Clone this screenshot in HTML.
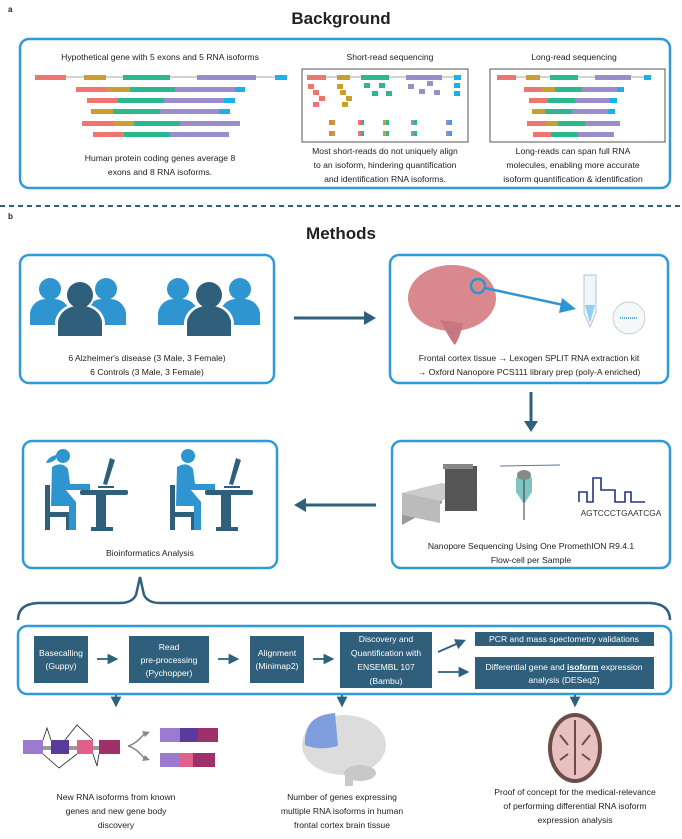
<!DOCTYPE html>
<html><head><meta charset="utf-8"><style>
html,body{margin:0;padding:0;background:#fff;}
svg{display:block;font-family:"Liberation Sans",sans-serif;}
text{fill:#222;font-size:8.6px;}
.t{text-anchor:middle;}
.w{fill:#fff;text-anchor:middle;font-size:8.6px;}
</style></head><body>
<svg width="682" height="839" viewBox="0 0 682 839" xmlns="http://www.w3.org/2000/svg">
<defs>
<marker id="ah" markerWidth="6" markerHeight="6" refX="3" refY="3" orient="auto" markerUnits="strokeWidth"><path d="M0,0 L6,3 L0,6 z" fill="#2f607e"/></marker>
</defs>
<text x="8" y="12" style="font-size:8px;font-weight:bold">a</text>
<text x="341" y="24" class="t" style="font-size:17px;font-weight:bold">Background</text>
<rect x="20" y="39" width="650" height="149" rx="9" fill="none" stroke="#2e9ad8" stroke-width="2.5"/>
<text x="160" y="60" class="t">Hypothetical gene with 5 exons and 5 RNA isoforms</text>
<text x="390" y="60" class="t">Short-read sequencing</text>
<text x="574" y="60" class="t">Long-read sequencing</text>
<!-- left gene -->
<g>
<line x1="35" y1="77" x2="287" y2="77" stroke="#888" stroke-width="0.8"/>
<rect x="35" y="75" width="31" height="5" fill="#f07470"/><rect x="84" y="75" width="22" height="5" fill="#c9a030"/><rect x="123" y="75" width="47" height="5" fill="#2bb88e"/><rect x="197" y="75" width="59" height="5" fill="#9b8ccc"/><rect x="275" y="75" width="12" height="5" fill="#1ab0e8"/>
<rect x="76" y="87" width="31" height="5" fill="#f07470"/><rect x="107" y="87" width="23" height="5" fill="#c9a030"/><rect x="130" y="87" width="45" height="5" fill="#2bb88e"/><rect x="175" y="87" width="60" height="5" fill="#9b8ccc"/><rect x="235" y="87" width="10" height="5" fill="#1ab0e8"/>
<rect x="87" y="98" width="31" height="5" fill="#f07470"/><rect x="118" y="98" width="46" height="5" fill="#2bb88e"/><rect x="164" y="98" width="60" height="5" fill="#9b8ccc"/><rect x="224" y="98" width="11" height="5" fill="#1ab0e8"/>
<rect x="91" y="109" width="22" height="5" fill="#c9a030"/><rect x="113" y="109" width="47" height="5" fill="#2bb88e"/><rect x="160" y="109" width="59" height="5" fill="#9b8ccc"/><rect x="219" y="109" width="11" height="5" fill="#1ab0e8"/>
<rect x="82" y="121" width="31" height="5" fill="#f07470"/><rect x="113" y="121" width="21" height="5" fill="#c9a030"/><rect x="134" y="121" width="46" height="5" fill="#2bb88e"/><rect x="180" y="121" width="60" height="5" fill="#9b8ccc"/>
<rect x="93" y="132" width="31" height="5" fill="#f07470"/><rect x="124" y="132" width="46" height="5" fill="#2bb88e"/><rect x="170" y="132" width="59" height="5" fill="#9b8ccc"/>
</g>
<text x="160" y="161" class="t">Human protein coding genes average 8</text>
<text x="160" y="175" class="t">exons and 8 RNA isoforms.</text>
<!-- short reads -->
<rect x="302" y="69" width="166" height="73" fill="none" stroke="#555" stroke-width="1"/>
<line x1="307" y1="77" x2="461" y2="77" stroke="#888" stroke-width="0.8"/>
<rect x="307" y="75" width="19" height="5" fill="#f07470"/><rect x="337" y="75" width="13" height="5" fill="#c9a030"/><rect x="361" y="75" width="28" height="5" fill="#2bb88e"/><rect x="406" y="75" width="36" height="5" fill="#9b8ccc"/><rect x="454" y="75" width="7" height="5" fill="#1ab0e8"/>
<g fill="#f07470"><rect x="308" y="84" width="6" height="5"/><rect x="313" y="90" width="6" height="5"/><rect x="319" y="96" width="6" height="5"/><rect x="313" y="102" width="6" height="5"/></g>
<g fill="#c9a030"><rect x="337" y="84" width="6" height="5"/><rect x="340" y="90" width="6" height="5"/><rect x="346" y="96" width="6" height="5"/><rect x="342" y="102" width="6" height="5"/></g>
<g fill="#2bb88e"><rect x="364" y="83" width="6" height="5"/><rect x="379" y="83" width="6" height="5"/><rect x="372" y="91" width="6" height="5"/><rect x="386" y="91" width="6" height="5"/></g>
<g fill="#9b8ccc"><rect x="408" y="84" width="6" height="5"/><rect x="427" y="81" width="6" height="5"/><rect x="419" y="89" width="6" height="5"/><rect x="434" y="90" width="6" height="5"/></g>
<g fill="#1ab0e8"><rect x="454" y="83" width="6" height="5"/><rect x="454" y="91" width="6" height="5"/></g>
<g>
<rect x="329" y="120" width="3" height="5" fill="#f07470"/><rect x="332" y="120" width="3" height="5" fill="#c9a030"/><rect x="329" y="131" width="3" height="5" fill="#f07470"/><rect x="332" y="131" width="3" height="5" fill="#c9a030"/>
<rect x="358" y="120" width="3" height="5" fill="#f07470"/><rect x="361" y="120" width="3" height="5" fill="#2bb88e"/><rect x="358" y="131" width="3" height="5" fill="#f07470"/><rect x="361" y="131" width="3" height="5" fill="#2bb88e"/>
<rect x="383" y="120" width="3" height="5" fill="#c9a030"/><rect x="386" y="120" width="3" height="5" fill="#2bb88e"/><rect x="383" y="131" width="3" height="5" fill="#c9a030"/><rect x="386" y="131" width="3" height="5" fill="#2bb88e"/>
<rect x="411" y="120" width="3" height="5" fill="#9b8ccc"/><rect x="414" y="120" width="3" height="5" fill="#2bb88e"/><rect x="411" y="131" width="3" height="5" fill="#9b8ccc"/><rect x="414" y="131" width="3" height="5" fill="#2bb88e"/>
<rect x="446" y="120" width="3" height="5" fill="#9b8ccc"/><rect x="449" y="120" width="3" height="5" fill="#1ab0e8"/><rect x="446" y="131" width="3" height="5" fill="#9b8ccc"/><rect x="449" y="131" width="3" height="5" fill="#1ab0e8"/>
</g>
<text x="385" y="154" class="t">Most short-reads do not uniquely align</text>
<text x="385" y="168" class="t">to an isoform, hindering quantification</text>
<text x="385" y="182" class="t">and identification RNA isoforms.</text>
<!-- long reads -->
<rect x="490" y="69" width="175" height="73" fill="none" stroke="#555" stroke-width="1"/>
<line x1="497" y1="77" x2="650" y2="77" stroke="#888" stroke-width="0.8"/>
<rect x="497" y="75" width="19" height="5" fill="#f07470"/><rect x="526" y="75" width="14" height="5" fill="#c9a030"/><rect x="550" y="75" width="28" height="5" fill="#2bb88e"/><rect x="595" y="75" width="36" height="5" fill="#9b8ccc"/><rect x="644" y="75" width="7" height="5" fill="#1ab0e8"/>
<rect x="524" y="87" width="18" height="5" fill="#f07470"/><rect x="542" y="87" width="13" height="5" fill="#c9a030"/><rect x="555" y="87" width="27" height="5" fill="#2bb88e"/><rect x="582" y="87" width="35" height="5" fill="#9b8ccc"/><rect x="617" y="87" width="7" height="5" fill="#1ab0e8"/>
<rect x="529" y="98" width="19" height="5" fill="#f07470"/><rect x="548" y="98" width="27" height="5" fill="#2bb88e"/><rect x="575" y="98" width="35" height="5" fill="#9b8ccc"/><rect x="610" y="98" width="7" height="5" fill="#1ab0e8"/>
<rect x="532" y="109" width="13" height="5" fill="#c9a030"/><rect x="545" y="109" width="27" height="5" fill="#2bb88e"/><rect x="572" y="109" width="36" height="5" fill="#9b8ccc"/><rect x="608" y="109" width="7" height="5" fill="#1ab0e8"/>
<rect x="527" y="121" width="18" height="5" fill="#f07470"/><rect x="545" y="121" width="13" height="5" fill="#c9a030"/><rect x="558" y="121" width="27" height="5" fill="#2bb88e"/><rect x="585" y="121" width="35" height="5" fill="#9b8ccc"/>
<rect x="533" y="132" width="18" height="5" fill="#f07470"/><rect x="551" y="132" width="27" height="5" fill="#2bb88e"/><rect x="578" y="132" width="36" height="5" fill="#9b8ccc"/>
<text x="573" y="154" class="t">Long-reads can span full RNA</text>
<text x="573" y="168" class="t">molecules, enabling more accurate</text>
<text x="573" y="182" class="t">isoform quantification &amp; identification</text>

<line x1="0" y1="206" x2="682" y2="206" stroke="#2f607e" stroke-width="2" stroke-dasharray="5,4"/>
<text x="8" y="219" style="font-size:8px;font-weight:bold">b</text>
<text x="341" y="239" class="t" style="font-size:17px;font-weight:bold">Methods</text>

<!-- box1 -->
<rect x="20" y="255" width="254" height="128" rx="9" fill="none" stroke="#2e9ad8" stroke-width="2.5"/>
<g>
<g fill="#2e95d0"><circle cx="50" cy="289" r="11"/><path d="M30,325 v-12 a16,16 0 0 1 16,-14 h8 a16,16 0 0 1 16,14 v12z"/><circle cx="106" cy="289" r="11"/><path d="M86,325 v-12 a16,16 0 0 1 16,-14 h8 a16,16 0 0 1 16,14 v12z"/>
<circle cx="178" cy="289" r="11"/><path d="M158,325 v-12 a16,16 0 0 1 16,-14 h8 a16,16 0 0 1 16,14 v12z"/><circle cx="240" cy="289" r="11"/><path d="M220,325 v-12 a16,16 0 0 1 16,-14 h8 a16,16 0 0 1 16,14 v12z"/></g>
<g fill="#fff"><circle cx="80" cy="295" r="15"/><circle cx="209" cy="295" r="15"/><path d="M55,338 v-16 a22,20 0 0 1 22,-18 h6 a22,20 0 0 1 22,18 v16z"/><path d="M184,338 v-16 a22,20 0 0 1 22,-18 h6 a22,20 0 0 1 22,18 v16z"/></g>
<g fill="#2f5f7a"><circle cx="80" cy="295" r="13"/><circle cx="209" cy="295" r="13"/><path d="M58,336 v-14 a20,18 0 0 1 20,-16 h4 a20,18 0 0 1 20,16 v14z"/><path d="M187,336 v-14 a20,18 0 0 1 20,-16 h4 a20,18 0 0 1 20,16 v14z"/></g>
</g>
<text x="147" y="361" class="t">6 Alzheimer's disease (3 Male, 3 Female)</text>
<text x="147" y="375" class="t">6 Controls (3 Male, 3 Female)</text>
<!-- arrow right -->
<line x1="294" y1="318" x2="366" y2="318" stroke="#2f607e" stroke-width="3"/>
<path d="M364,311 L376,318 L364,325z" fill="#2f607e"/>
<!-- box2 -->
<rect x="390" y="255" width="278" height="128" rx="9" fill="none" stroke="#2e9ad8" stroke-width="2.5"/>
<ellipse cx="452" cy="298" rx="44" ry="33" fill="#d9888e"/>
<path d="M440,320 q10,20 15,25 q6,-10 8,-22z" fill="#c7777d"/>
<circle cx="478" cy="286" r="7" fill="none" stroke="#2e95d0" stroke-width="2.5"/>
<line x1="485" y1="288" x2="568" y2="306" stroke="#2e95d0" stroke-width="2.5"/>
<path d="M562,298 L576,309 L559,313z" fill="#2e95d0"/>
<path d="M584,275 h12 v38 l-6,14 l-6,-14z" fill="#eef6fa" stroke="#aac" stroke-width="0.7"/>
<path d="M585,305 h10 l-5,18z" fill="#8fd0f0"/>
<circle cx="629" cy="318" r="16" fill="#f3f8fb" stroke="#bbb" stroke-width="0.7"/>
<line x1="620" y1="318" x2="638" y2="318" stroke="#2e95d0" stroke-width="1.5" stroke-dasharray="1,1"/>
<text x="529" y="361" class="t">Frontal cortex tissue → Lexogen SPLIT RNA extraction kit</text>
<text x="529" y="375" class="t">→ Oxford Nanopore PCS111 library prep (poly-A enriched)</text>
<!-- down arrow -->
<line x1="531" y1="392" x2="531" y2="424" stroke="#2f607e" stroke-width="3"/>
<path d="M524,421 L531,432 L538,421z" fill="#2f607e"/>
<!-- box3 -->
<rect x="23" y="441" width="254" height="127" rx="9" fill="none" stroke="#2e9ad8" stroke-width="2.5"/>
<g>
<g fill="#2f5f7a"><rect x="80" y="490" width="48" height="5" rx="2"/><rect x="96" y="493" width="10" height="37"/><rect x="91" y="527" width="22" height="4"/>
<rect x="45" y="485" width="5" height="45"/><rect x="45" y="512" width="27" height="5"/><rect x="66" y="512" width="5" height="18"/>
<rect x="205" y="490" width="48" height="5" rx="2"/><rect x="221" y="493" width="10" height="37"/><rect x="216" y="527" width="22" height="4"/>
<rect x="170" y="485" width="5" height="45"/><rect x="170" y="512" width="27" height="5"/><rect x="191" y="512" width="5" height="18"/>
<path d="M110,458 l5,2 l-8,25 l-4,-1z"/><rect x="98" y="486" width="16" height="2"/>
<path d="M236,458 l5,2 l-8,25 l-4,-1z"/><rect x="224" y="486" width="16" height="2"/></g>
<g fill="#2e95d0"><circle cx="63" cy="456" r="7"/><path d="M52,467 q10,-6 16,2 l2,15 h20 v6 h-24 l10,12 v28 h-7 v-24 h-18 z"/>
<path d="M56,455 q-8,2 -10,8 q6,0 10,-4z"/>
<circle cx="188" cy="456" r="7"/><path d="M177,467 q10,-6 16,2 l2,15 h20 v6 h-24 l10,12 v28 h-7 v-24 h-18 z"/></g>
</g>
<text x="150" y="556" class="t">Bioinformatics Analysis</text>
<!-- left arrow -->
<line x1="304" y1="505" x2="376" y2="505" stroke="#2f607e" stroke-width="3"/>
<path d="M306,498 L294,505 L306,512z" fill="#2f607e"/>
<!-- box4 -->
<rect x="392" y="441" width="278" height="127" rx="9" fill="none" stroke="#2e9ad8" stroke-width="2.5"/>
<path d="M402,493 l40,-10 v20 l-40,22z" fill="#999"/>
<path d="M402,493 l40,-10 l36,6 l-38,12z" fill="#ccc"/>
<rect x="445" y="466" width="32" height="45" fill="#555"/><rect x="443" y="464" width="30" height="5" fill="#888"/>
<path d="M402,493 l38,8 v22 l-38,-8z" fill="#bbb"/>
<line x1="500" y1="466" x2="560" y2="465" stroke="#5577aa" stroke-width="1"/>
<path d="M516,478 q8,-8 16,0 v14 l-8,12 l-8,-12z" fill="#7fc6c0"/><ellipse cx="524" cy="475" rx="7" ry="5" fill="#888"/>
<line x1="524" y1="480" x2="524" y2="520" stroke="#335" stroke-width="1"/>
<path d="M579,502 v-10 h8 v10 h6 v-24 h8 v12 h14 v12 h10 v-10 h6 v10 h14" fill="none" stroke="#223388" stroke-width="1.6"/>
<text x="621" y="516" class="t" style="font-size:8.4px;fill:#333">AGTCCCTGAATCGA</text>
<text x="531" y="549" class="t">Nanopore Sequencing Using One PromethION R9.4.1</text>
<text x="531" y="563" class="t">Flow-cell per Sample</text>
<!-- bracket -->
<path d="M18,620 q0,-16 20,-17 h82 q12,0 16,-8 l4,-18 l4,18 q4,8 16,8 h490 q20,1 20,17" fill="none" stroke="#2f607e" stroke-width="2.5"/>
<!-- pipeline -->
<rect x="18" y="626" width="653" height="68" rx="9" fill="none" stroke="#2e9ad8" stroke-width="2.5"/>
<g fill="#2f5f7a">
<rect x="34" y="636" width="54" height="47"/><rect x="129" y="636" width="80" height="47"/><rect x="250" y="636" width="54" height="47"/><rect x="340" y="632" width="92" height="56"/><rect x="475" y="632" width="179" height="14"/><rect x="475" y="657" width="179" height="32"/>
</g>
<text x="61" y="656" class="w">Basecalling</text><text x="61" y="669" class="w">(Guppy)</text>
<text x="169" y="650" class="w">Read</text><text x="169" y="663" class="w">pre-processing</text><text x="169" y="676" class="w">(Pychopper)</text>
<text x="277" y="656" class="w">Alignment</text><text x="277" y="669" class="w">(Minimap2)</text>
<text x="386" y="642" class="w">Discovery and</text><text x="386" y="656" class="w">Quantification with</text><text x="386" y="670" class="w">ENSEMBL 107</text><text x="386" y="684" class="w">(Bambu)</text>
<text x="564" y="642" class="w">PCR and mass spectometry validations</text>
<text x="564" y="670" class="w">Differential gene and <tspan font-weight="bold" text-decoration="underline">isoform</tspan> expression</text>
<text x="564" y="683" class="w">analysis (DESeq2)</text>
<g stroke="#2f607e" stroke-width="1.8" fill="none" marker-end="url(#ah)">
<line x1="97" y1="659" x2="113" y2="659"/><line x1="218" y1="659" x2="234" y2="659"/><line x1="313" y1="659" x2="329" y2="659"/>
<line x1="438" y1="652" x2="461" y2="642"/><line x1="438" y1="672" x2="464" y2="672"/>
<line x1="116" y1="695" x2="116" y2="702"/><line x1="342" y1="695" x2="342" y2="702"/><line x1="575" y1="695" x2="575" y2="702"/>
</g>
<!-- exon diagram -->
<rect x="30" y="746" width="90" height="4" fill="#999"/>
<rect x="23" y="740" width="20" height="14" fill="#9b7ad0"/><rect x="51" y="740" width="18" height="14" fill="#5a3a9a"/><rect x="77" y="740" width="16" height="14" fill="#e0608a"/><rect x="99" y="740" width="21" height="14" fill="#a0306a"/>
<path d="M43,740 l4,-12 l4,12 M43,754 l16,14 l18,-14 M93,740 l-16,-15 l-12,15 M93,754 l4,12 l2,-12" fill="none" stroke="#222" stroke-width="0.8" stroke-dasharray="0"/>
<path d="M128,746 q8,-2 16,-12 M128,746 q8,2 16,12" fill="none" stroke="#888" stroke-width="1.5"/>
<path d="M142,731 l8,1 l-5,5z M142,761 l8,-1 l-5,-5z" fill="#888"/>
<rect x="160" y="728" width="20" height="14" fill="#9b7ad0"/><rect x="180" y="728" width="18" height="14" fill="#5a3a9a"/><rect x="198" y="728" width="20" height="14" fill="#a0306a"/>
<rect x="160" y="753" width="20" height="14" fill="#9b7ad0"/><rect x="180" y="753" width="13" height="14" fill="#e0608a"/><rect x="193" y="753" width="22" height="14" fill="#a0306a"/>
<!-- brain 2 -->
<ellipse cx="344" cy="745" rx="42" ry="30" fill="#dcdcdc"/>
<path d="M305,745 q-2,-30 30,-32 l3,33 q-20,5 -33,-1z" fill="#7f9fdc"/>
<ellipse cx="360" cy="773" rx="16" ry="8" fill="#c8c8c8"/><rect x="345" y="770" width="8" height="16" fill="#c8c8c8"/>
<!-- brain slice -->
<ellipse cx="575" cy="748" rx="27" ry="35" fill="#6b4d48"/>
<ellipse cx="575" cy="748" rx="23" ry="31" fill="#e8c0bf"/>
<path d="M575,720 v55 M560,735 l8,10 M590,735 l-8,10 M560,760 l8,-6 M590,760 l-8,-6" stroke="#6b4d48" stroke-width="2" fill="none"/>
<text x="116" y="800" class="t">New RNA isoforms from known</text>
<text x="116" y="814" class="t">genes and new gene body</text>
<text x="116" y="828" class="t">discovery</text>
<text x="342" y="800" class="t">Number of genes expressing</text>
<text x="342" y="814" class="t">multiple RNA isoforms in human</text>
<text x="342" y="828" class="t">frontal cortex brain tissue</text>
<text x="575" y="795" class="t">Proof of concept for the medical-relevance</text>
<text x="575" y="809" class="t">of performing differential RNA isoform</text>
<text x="575" y="823" class="t">expression analysis</text>
</svg>
</body></html>
